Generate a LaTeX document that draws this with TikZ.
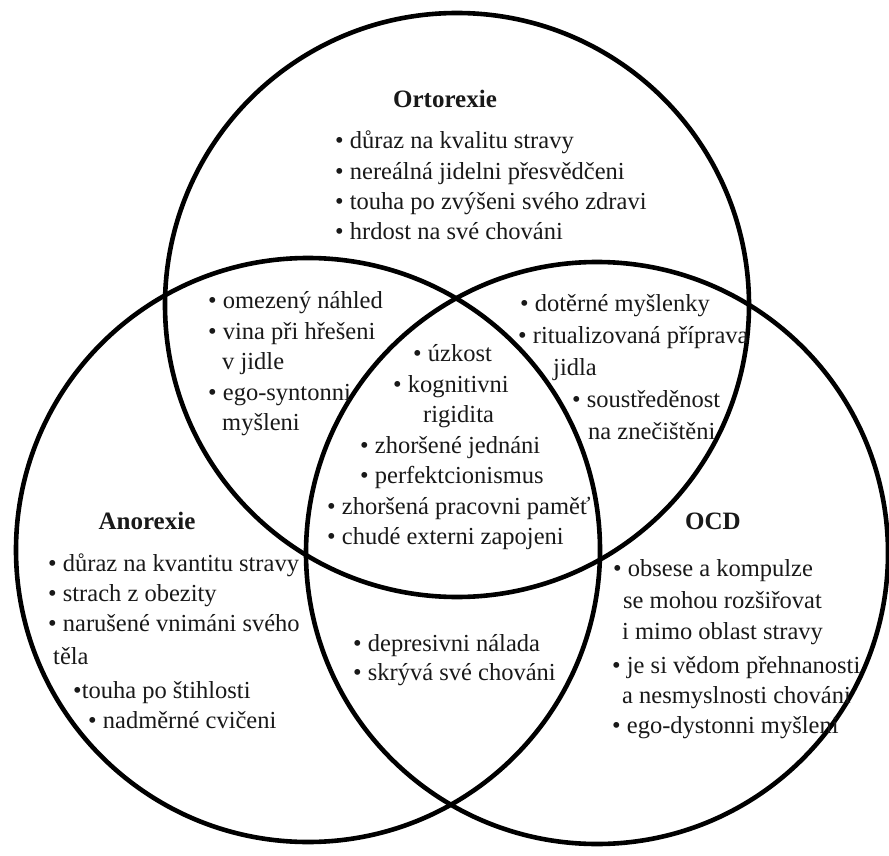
\documentclass[tikz,border=0pt]{standalone}
\usepackage{fontspec}
\setmainfont{Liberation Serif}
\begin{document}
\begin{tikzpicture}[x=1pt,y=-1pt,
  ring/.style={line width=4.6pt,draw=black},
  txt/.style={anchor=base west,inner sep=0pt,font=\fontsize{24.5}{29}\selectfont,text=black!90},
  head/.style={anchor=base,inner sep=0pt,font=\fontsize{25}{29}\selectfont\bfseries,text=black!90}]
\useasboundingbox (0,0) rectangle (889,856);
\fill[white] (0,0) rectangle (889,856);
% circles
\draw[ring] (457,305) circle[radius=292pt];
\draw[ring] (308,550) circle[radius=292pt];
\draw[ring] (597,553) circle[radius=291pt];
% Ortorexie
\node[head] (hO) at (445,108) {Ortorexie};
\node[txt] (o1) at (335,149) {• důraz na kvalitu stravy};
\node[txt] (o2) at (335,179) {• nereálná jidelni přesvědčeni};
\node[txt] (o3) at (335,209) {• touha po zvýšeni svého zdravi};
\node[txt] (o4) at (335,239) {• hrdost na své chováni};
% Ortorexie & Anorexie
\node[txt] (a1) at (208,308) {• omezený náhled};
\node[txt] (a2) at (208,339) {• vina při hřešeni};
\node[txt] (a3) at (222,369) {v jidle};
\node[txt] (a4) at (208,400) {• ego-syntonni};
\node[txt] (a5) at (222,430) {myšleni};
% Ortorexie & OCD
\node[txt] (c1) at (520,311) {• dotěrné myšlenky};
\node[txt] (c2) at (518,343) {• ritualizovaná příprava};
\node[txt] (c3) at (553,375) {jidla};
\node[txt] (c4) at (572,407) {• soustředěnost};
\node[txt] (c5) at (588,439) {na znečištěni};
% centre
\node[txt] (m1) at (413,361) {• úzkost};
\node[txt] (m2) at (393,392) {• kognitivni};
\node[txt] (m3) at (423,422) {rigidita};
\node[txt] (m4) at (360,453) {• zhoršené jednáni};
\node[txt] (m5) at (360,483) {• perfektcionismus};
\node[txt] (m6) at (327,514) {• zhoršená pracovni paměť};
\node[txt] (m7) at (327,544) {• chudé externi zapojeni};
% Anorexie & OCD
\node[txt] (b1) at (353,651) {• depresivni nálada};
\node[txt] (b2) at (353,680) {• skrývá své chováni};
% Anorexie
\node[head] (hA) at (147,529) {Anorexie};
\node[txt] (n1) at (48,571) {• důraz na kvantitu stravy};
\node[txt] (n2) at (48,601) {• strach z obezity};
\node[txt] (n3) at (48,631) {• narušené vnimáni svého};
\node[txt] (n4) at (53,664) {těla};
\node[txt] (n5) at (73,698) {•touha po štihlosti};
\node[txt] (n6) at (88,728) {• nadměrné cvičeni};
% OCD
\node[head] (hC) at (713,529) {OCD};
\node[txt] (d1) at (613,576) {• obsese a kompulze};
\node[txt] (d2) at (623,608) {se mohou rozšiřovat};
\node[txt] (d3) at (622,639) {i mimo oblast stravy};
\node[txt] (d4) at (612,673) {• je si vědom přehnanosti};
\node[txt] (d5) at (622,703) {a nesmyslnosti chováni};
\node[txt] (d6) at (612,733) {• ego-dystonni myšleni};
\end{tikzpicture}
\end{document}
